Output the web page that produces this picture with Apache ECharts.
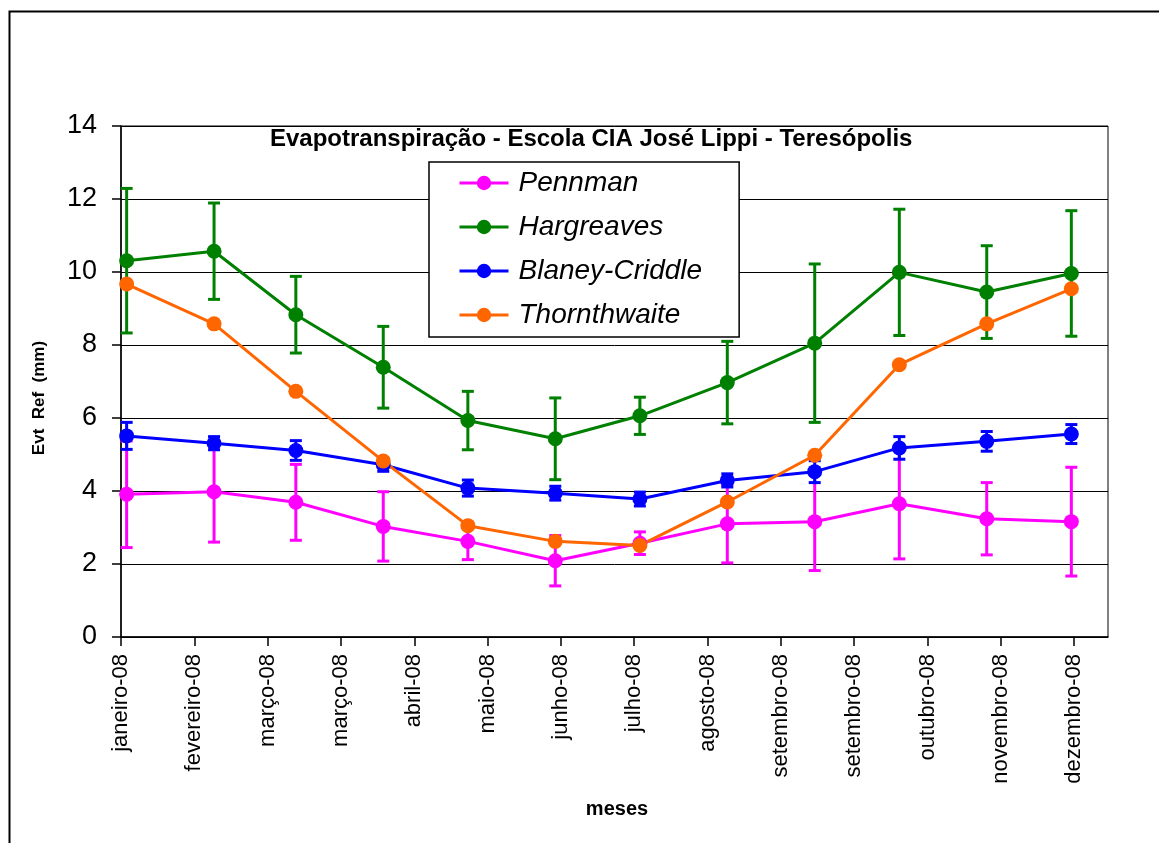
<!DOCTYPE html>
<html>
<head>
<meta charset="utf-8">
<script src="https://cdn.jsdelivr.net/npm/echarts@6/dist/echarts.min.js"></script>
<style>
  html, body { margin: 0; padding: 0; background: #fff; }
  #chart { width: 1159px; height: 843px; }
</style>
</head>
<body>
<div id="chart"></div>
<script>
// dias do ano (0 = 1 jan 2008), pontos no dia 15 de cada mês
var pointDays = [14, 45, 74, 105, 135, 166, 196, 227, 258, 288, 319, 349]
// marcas do eixo de datas (a cada 26 dias)
var tickDays = [12, 38, 64, 90, 116, 142, 168, 194, 220, 246, 272, 298, 324, 350]
var tickLabels = ['janeiro-08', 'fevereiro-08', 'março-08', 'março-08', 'abril-08', 'maio-08',
  'junho-08', 'julho-08', 'agosto-08', 'setembro-08', 'setembro-08', 'outubro-08',
  'novembro-08', 'dezembro-08']

var pennman = [3.91, 3.98, 3.69, 3.03, 2.62, 2.09, 2.57, 3.10, 3.16, 3.65, 3.24, 3.16]
var pennmanErr = [1.46, 1.38, 1.04, 0.95, 0.50, 0.69, 0.31, 1.07, 1.34, 1.51, 0.99, 1.49]
var hargreaves = [10.31, 10.57, 8.83, 7.39, 5.93, 5.43, 6.06, 6.97, 8.05, 9.99, 9.45, 9.96]
var hargreavesErr = [1.98, 1.32, 1.05, 1.12, 0.80, 1.12, 0.51, 1.13, 2.17, 1.73, 1.27, 1.72]
var blaney = [5.51, 5.31, 5.11, 4.72, 4.08, 3.94, 3.78, 4.29, 4.53, 5.18, 5.36, 5.56]
var blaneyErr = [0.37, 0.18, 0.27, 0.18, 0.22, 0.19, 0.19, 0.18, 0.30, 0.31, 0.27, 0.26]
var thornthwaite = [9.67, 8.58, 6.73, 4.82, 3.05, 2.62, 2.51, 3.70, 4.98, 7.46, 8.58, 9.54]

var FONT = 'Liberation Sans, Arial, sans-serif'

function pairs(values) {
  return values.map(function (v, i) { return [pointDays[i], v] })
}

function errData(values, errs) {
  return values.map(function (v, i) { return [pointDays[i], v - errs[i], v + errs[i]] })
}

function errorBars(color) {
  return function (params, api) {
    var x = api.value(0)
    var lo = api.coord([x, api.value(1)])
    var hi = api.coord([x, api.value(2)])
    var w = 6
    var style = { stroke: color, lineWidth: 3 }
    return {
      type: 'group',
      children: [
        { type: 'line', shape: { x1: lo[0], y1: lo[1], x2: hi[0], y2: hi[1] }, style: style },
        { type: 'line', shape: { x1: lo[0] - w, y1: lo[1], x2: lo[0] + w, y2: lo[1] }, style: style },
        { type: 'line', shape: { x1: hi[0] - w, y1: hi[1], x2: hi[0] + w, y2: hi[1] }, style: style }
      ]
    }
  }
}

function lineSeries(name, values, color) {
  return {
    name: name,
    type: 'line',
    data: pairs(values),
    symbol: 'circle',
    symbolSize: 15,
    lineStyle: { color: color, width: 3 },
    itemStyle: { color: color },
    emphasis: { disabled: true }
  }
}

function errSeries(values, errs, color) {
  return {
    type: 'custom',
    renderItem: errorBars(color),
    data: errData(values, errs),
    encode: { x: 0, y: [1, 2] },
    silent: true
  }
}

var chart = echarts.init(document.getElementById('chart'))

var option = {
  animation: false,
  textStyle: { fontFamily: FONT },
  grid: {
    left: 121, top: 126, right: 51, bottom: 206,
    show: true, borderColor: '#000', borderWidth: 1
  },
  legend: {
    data: ['Pennman', 'Hargreaves', 'Blaney-Criddle', 'Thornthwaite'],
    orient: 'vertical',
    left: 429,
    top: 162,
    padding: [4, 37, 5, 29],
    itemGap: 10,
    itemWidth: 49,
    itemHeight: 18,
    lineStyle: { width: 3 },
    borderColor: '#000',
    borderWidth: 1.5,
    backgroundColor: '#fff',
    textStyle: {
      fontFamily: FONT, fontSize: 28, fontStyle: 'italic', color: '#000',
      lineHeight: 34, padding: [0, 0, 0, 5]
    }
  },
  xAxis: {
    type: 'value',
    min: 12,
    max: 362,
    splitLine: { show: false },
    axisLine: { lineStyle: { color: '#000', width: 1.5 } },
    axisTick: { customValues: tickDays, length: 9, lineStyle: { color: '#000', width: 1.5 } },
    axisLabel: {
      customValues: tickDays,
      rotate: 90,
      margin: 17,
      fontSize: 22,
      color: '#000',
      fontFamily: FONT,
      formatter: function (v) {
        var i = tickDays.indexOf(v)
        return i >= 0 ? tickLabels[i] : ''
      }
    }
  },
  yAxis: {
    type: 'value',
    min: 0,
    max: 14,
    interval: 2,
    axisLine: { show: true, lineStyle: { color: '#000', width: 1.5 } },
    axisTick: { show: true, length: 9, lineStyle: { color: '#000', width: 1.5 } },
    axisLabel: { fontSize: 27, color: '#000', margin: 24, fontFamily: FONT },
    splitLine: { lineStyle: { color: '#000', width: 1 } }
  },
  graphic: [
    {
      type: 'rect', left: 7, top: 9, silent: true,
      shape: { width: 1200, height: 900 },
      style: { fill: 'none', stroke: '#000', lineWidth: 2 }
    },
    {
      type: 'text', x: 270, y: 139, silent: true,
      style: {
        text: 'Evapotranspiração - Escola CIA José Lippi - Teresópolis',
        font: 'bold 24px ' + FONT, fill: '#000', textVerticalAlign: 'middle'
      }
    },
    {
      type: 'text', x: 617, y: 809, silent: true,
      style: {
        text: 'meses', font: 'bold 20px ' + FONT, fill: '#000',
        textAlign: 'center', textVerticalAlign: 'middle'
      }
    },
    {
      type: 'text', x: 39, y: 398, rotation: Math.PI / 2, silent: true,
      style: {
        text: 'Evt  Ref  (mm)', font: 'bold 17px ' + FONT, fill: '#000',
        textAlign: 'center', textVerticalAlign: 'middle'
      }
    }
  ],
  series: [
    errSeries(pennman, pennmanErr, '#FF00FF'),
    lineSeries('Pennman', pennman, '#FF00FF'),
    errSeries(hargreaves, hargreavesErr, '#008000'),
    lineSeries('Hargreaves', hargreaves, '#008000'),
    errSeries(blaney, blaneyErr, '#0000FF'),
    lineSeries('Blaney-Criddle', blaney, '#0000FF'),
    lineSeries('Thornthwaite', thornthwaite, '#FF6600')
  ]
}

chart.setOption(option)
</script>
</body>
</html>
